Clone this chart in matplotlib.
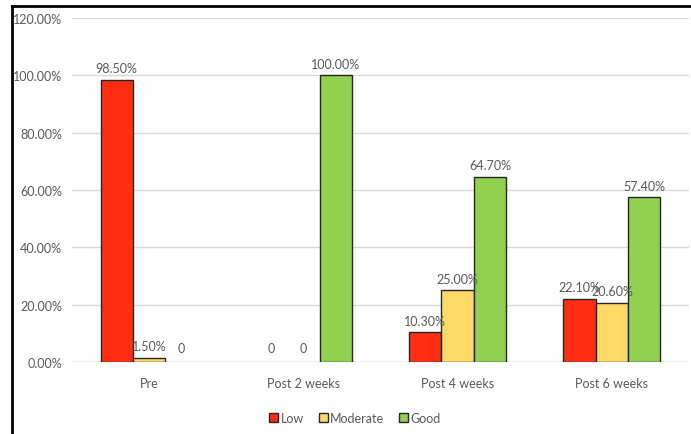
import matplotlib
matplotlib.use("Agg")
import matplotlib.pyplot as plt
import numpy as np
from matplotlib.lines import Line2D

categories = ["Pre", "Post 2 weeks", "Post 4 weeks", "Post 6 weeks"]
series_names = ["Low", "Moderate", "Good"]
low = [98.5, 0, 10.3, 22.1]
moderate = [1.5, 0, 25.0, 20.6]
good = [0, 100.0, 64.7, 57.4]
yticks = [0, 20, 40, 60, 80, 100, 120]

colors = ["#FF2D12", "#FFD966", "#92D050"]
txt = "#595959"
plt.rcParams["font.family"] = ["Lato", "DejaVu Sans"]
fs = 9

fig = plt.figure(figsize=(6.91, 4.35), dpi=100)
ax = fig.add_axes([72/691, 72/435, 617/691, 344/435])

x = np.arange(len(categories))
w = 0.21
for i, (vals, c, n) in enumerate(zip([low, moderate, good], colors, series_names)):
    pos = x + (i - 1) * w
    lws = [1.0 if v > 0 else 0 for v in vals]
    ax.bar(pos, vals, w, color=c, edgecolor="#262626", linewidth=lws, label=n, zorder=3)
    for p, v in zip(pos, vals):
        lab = "0" if v == 0 else f"{v:.2f}%"
        ax.annotate(lab, (p, v), xytext=(0, 4 if v > 0 else 6), textcoords="offset points",
                    ha="center", va="bottom", fontsize=fs, color=txt, zorder=4)

ax.set_xlim(-0.5, 3.5)
ax.set_ylim(0, 120)
ax.set_yticks(yticks)
ax.set_yticklabels([f"{t:.2f}%" for t in yticks])
ax.set_xticks(x)
ax.set_xticklabels(categories)
ax.tick_params(axis="both", length=0, colors=txt, labelsize=fs)
ax.tick_params(axis="y", pad=7)
ax.tick_params(axis="x", pad=11)
ax.yaxis.grid(True, color="#D9D9D9", linewidth=1.0, zorder=0)
for s in ax.spines.values():
    s.set_visible(False)
ax.axhline(0, color="#D9D9D9", linewidth=1.0, zorder=1)

leg = ax.legend(loc="center", bbox_to_anchor=(355/691, 16/435), bbox_transform=fig.transFigure,
                ncol=3, frameon=False, fontsize=fs, handlelength=0.7, handleheight=0.7,
                handletextpad=0.2, columnspacing=1.2, labelcolor=txt)
for h in leg.legend_handles:
    h.set_edgecolor("#262626")
    h.set_linewidth(1.0)

fig.add_artist(Line2D([12/691, 12/691], [0, 428/435], color="black", linewidth=2, transform=fig.transFigure))
fig.add_artist(Line2D([12/691, 1], [428/435, 428/435], color="black", linewidth=2, transform=fig.transFigure))

fig.savefig("out.png", dpi=100)
